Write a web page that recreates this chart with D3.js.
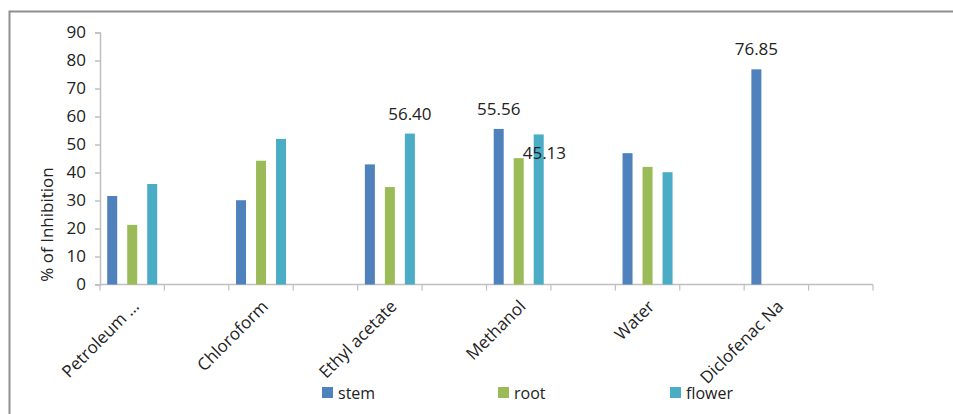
<!DOCTYPE html>
<html>
<head>
<meta charset="utf-8">
<script src="https://cdn.jsdelivr.net/npm/d3@7"></script>
<style>
  body { margin: 0; background: #fff; }
  text { font-family: "Open Sans", sans-serif; fill: #222; }
</style>
</head>
<body>
<svg id="chart" width="953" height="414"></svg>
<script>
// categories (blank slots are the empty rows of the sheet)
var categories = ['Petroleum \u2026', '', 'Chloroform', '', 'Ethyl acetate', '', 'Methanol', '', 'Water', '', 'Diclofenac Na', ''];

var seriesNames = ['stem', 'root', 'flower'];

// one value per non-blank category
var stem   = [31.6, 30.1, 42.9, 55.56, 46.9, 76.85];
var root   = [21.3, 44.2, 34.8, 45.13, 42.0, null];
var flower = [35.9, 52.0, 53.9, 53.6, 40.1, null];

var yTicks = [0, 10, 20, 30, 40, 50, 60, 70, 80, 90];

// data labels shown on the chart
var dataLabels = [
  { category: 'Ethyl acetate', series: 'flower', text: '56.40', place: 'top' },
  { category: 'Methanol', series: 'stem', text: '55.56', place: 'top' },
  { category: 'Methanol', series: 'root', text: '45.13', place: 'right' },
  { category: 'Diclofenac Na', series: 'stem', text: '76.85', place: 'top' }
];

var colors = { stem: '#4F81BD', root: '#9BBB59', flower: '#4BACC6' };

var fontSize = '17px';

var svg = d3.select('#chart');

// outer chart border
svg.append('rect')
  .attr('x', 9.5).attr('y', 11.5)
  .attr('width', 960).attr('height', 420)
  .attr('fill', 'none')
  .attr('stroke', '#8f8f8f')
  .attr('stroke-width', 2);

var plot = { left: 100, right: 873, top: 32.5, bottom: 284.5 };

var x = d3.scaleBand()
  .domain(d3.range(categories.length))
  .range([plot.left, plot.right])
  .padding(0);

var xInner = d3.scaleBand()
  .domain(seriesNames)
  .range([0, x.bandwidth()])
  .paddingInner(0.5)
  .paddingOuter(0.36);

var y = d3.scaleLinear()
  .domain([0, 90])
  .range([plot.bottom, plot.top]);

var seriesValues = { stem: stem, root: root, flower: flower };

// build rows: map each real category to its slot index
var rows = [];
var k = 0;
categories.forEach(function (c, i) {
  if (c !== '') {
    seriesNames.forEach(function (s) {
      var v = seriesValues[s][k];
      if (v != null) rows.push({ category: c, index: i, series: s, value: v });
    });
    k++;
  }
});

/**
 * Axes
 */
var axisColor = '#bfbfbf';

var yAxis = svg.append('g')
  .attr('transform', 'translate(' + plot.left + ',0)')
  .call(d3.axisLeft(y).tickValues(yTicks).tickSize(5).tickPadding(9).tickFormat(d3.format('d')));

yAxis.select('.domain').attr('stroke', axisColor).attr('stroke-width', 1.5);
yAxis.selectAll('.tick line').attr('stroke', axisColor).attr('stroke-width', 1.5);
yAxis.selectAll('.tick text')
  .attr('fill', '#222')
  .style('font-size', fontSize)
  .style('font-family', '"Open Sans", sans-serif');

var xAxis = svg.append('g').attr('class', 'x-axis');

xAxis.append('line')
  .attr('x1', plot.left).attr('x2', plot.right)
  .attr('y1', y(0)).attr('y2', y(0))
  .attr('stroke', axisColor)
  .attr('stroke-width', 1.5);

var boundaries = d3.range(categories.length + 1).map(function (i) {
  return i < categories.length ? x(i) : x(i - 1) + x.bandwidth();
});

xAxis.selectAll('line.tick')
  .data(boundaries)
  .enter()
  .append('line')
  .attr('class', 'tick')
  .attr('x1', function (d) { return d; })
  .attr('x2', function (d) { return d; })
  .attr('y1', y(0))
  .attr('y2', y(0) + 6)
  .attr('stroke', axisColor)
  .attr('stroke-width', 1.2);

xAxis.selectAll('text.cat')
  .data(categories.map(function (c, i) { return { name: c, index: i }; })
    .filter(function (d) { return d.name !== ''; }))
  .enter()
  .append('text')
  .attr('class', 'cat')
  .attr('transform', function (d) {
    var cx = x(d.index) + x.bandwidth() / 2;
    return 'translate(' + (cx + 8) + ',' + (y(0) + 23) + ') rotate(-45)';
  })
  .style('font-size', fontSize)
  .style('text-anchor', 'end')
  .text(function (d) { return d.name; });

svg.append('text')
  .attr('transform', 'translate(53,' + (y(0) - 60) + ') rotate(-90)')
  .style('font-size', fontSize)
  .style('text-anchor', 'middle')
  .text('% of Inhibition');

/**
 * Bars
 */
svg.append('g')
  .selectAll('rect')
  .data(rows)
  .enter()
  .append('rect')
  .attr('x', function (d) { return x(d.index) + xInner(d.series); })
  .attr('y', function (d) { return y(d.value); })
  .attr('width', xInner.bandwidth())
  .attr('height', function (d) { return y(0) - y(d.value); })
  .attr('fill', function (d) { return colors[d.series]; });

/**
 * Data labels
 */
svg.append('g')
  .selectAll('text')
  .data(dataLabels)
  .enter()
  .append('text')
  .each(function (d) {
    var row = rows.find(function (r) { return r.category === d.category && r.series === d.series; });
    var bx = x(row.index) + xInner(row.series);
    var sel = d3.select(this).style('font-size', fontSize).text(d.text);
    if (d.place === 'right') {
      sel.attr('x', bx + xInner.bandwidth() - 1).attr('y', y(row.value) + 1).style('text-anchor', 'start');
    } else {
      sel.attr('x', bx + xInner.bandwidth() / 2).attr('y', y(row.value) - 14).style('text-anchor', 'middle');
    }
  });

/**
 * Legend
 */
var legendX = [322, 498, 670];

var legend = svg.append('g')
  .selectAll('g')
  .data(seriesNames)
  .enter()
  .append('g')
  .attr('transform', function (d, i) { return 'translate(' + legendX[i] + ',387)'; });

legend.append('rect')
  .attr('width', 11).attr('height', 11)
  .attr('fill', function (d) { return colors[d]; });

legend.append('text')
  .attr('x', 16).attr('y', 12)
  .style('font-size', '16px')
  .text(function (d) { return d; });
</script>
</body>
</html>
